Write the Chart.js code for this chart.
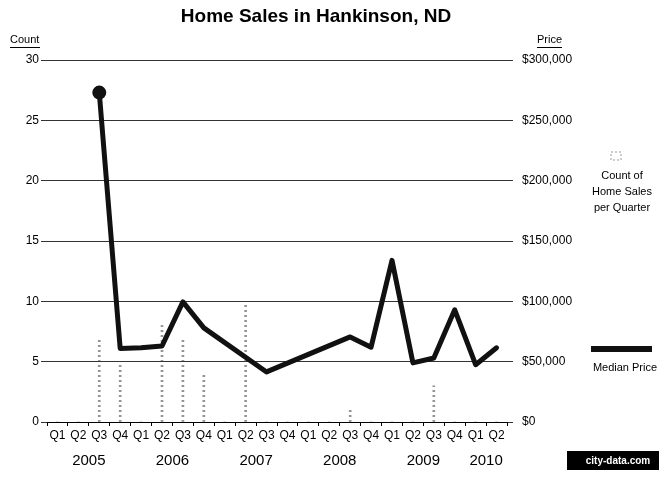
<!DOCTYPE html>
<html>
<head>
<meta charset="utf-8">
<script src="https://cdn.jsdelivr.net/npm/chart.js@4/dist/chart.umd.min.js"></script>
<style>
  html, body { margin: 0; padding: 0; background: #fff; }
  #wrap { width: 659px; height: 478px; position: relative; }
</style>
</head>
<body>
<div id="wrap"><canvas id="salesChart"></canvas></div>
<script>
// Home sales chart - Hankinson, ND
const quarters = ['Q1','Q2','Q3','Q4','Q1','Q2','Q3','Q4','Q1','Q2','Q3','Q4',
                  'Q1','Q2','Q3','Q4','Q1','Q2','Q3','Q4','Q1','Q2'];
const years = ['2005','2005','2005','2005','2006','2006','2006','2006','2007','2007','2007','2007',
               '2008','2008','2008','2008','2009','2009','2009','2009','2010','2010'];
const salesCount = [0, 0, 7, 5, 0, 8, 7, 4, 0, 10, 0, 0, 0, 0, 1, 0, 0, 0, 3, 0, 0, 0];
const medianPrice = [null, null, 273000, 61000, 61500, 63000, 99500, 78000, null, null, 41500, null,
                     null, null, 70500, 62000, 134000, 49000, 53000, 93000, 47500, 61500];
const countTicks = [0, 5, 10, 15, 20, 25, 30];
const priceTicks = [0, 50000, 100000, 150000, 200000, 250000, 300000];

const FONT = 'Liberation Sans, Arial, sans-serif';

// faint dotted fill for the count bars (they barely show in the original)
function dotPattern() {
  const c = document.createElement('canvas');
  c.width = 2; c.height = 5;
  const g = c.getContext('2d');
  g.fillStyle = 'rgba(60,60,60,0.55)';
  g.fillRect(0, 0, 2, 2);
  return document.createElement('canvas').getContext('2d').createPattern(c, 'repeat');
}

// draws title, axis captions, year labels, legend and badge
const decor = {
  id: 'decor',
  afterDraw(chart) {
    const ctx = chart.ctx;
    const x = chart.scales.x;
    ctx.save();
    ctx.fillStyle = '#000';
    ctx.textBaseline = 'middle';

    ctx.font = 'bold 19px ' + FONT;
    ctx.textAlign = 'center';
    ctx.fillText('Home Sales in Hankinson, ND', 316, 17);

    ctx.font = '11px ' + FONT;
    ctx.textAlign = 'left';
    ctx.fillText('Count', 10, 40);
    ctx.fillRect(10, 47, 30, 1);
    ctx.fillText('Price', 537, 40);
    ctx.fillRect(537, 47, 25, 1);

    // year labels centred under their quarters
    ctx.font = '15px ' + FONT;
    ctx.textAlign = 'center';
    const seen = {};
    years.forEach((y, i) => {
      if (!seen[y]) seen[y] = [];
      seen[y].push(x.getPixelForValue(i));
    });
    Object.keys(seen).forEach(y => {
      const px = seen[y];
      ctx.fillText(y, (px[0] + px[px.length - 1]) / 2, 461);
    });

    // legend
    ctx.setLineDash([2, 2]);
    ctx.strokeStyle = '#999';
    ctx.lineWidth = 1;
    ctx.strokeRect(611, 152, 10, 8);
    ctx.setLineDash([]);
    ctx.font = '11px ' + FONT;
    ctx.fillText('Count of', 622, 176);
    ctx.fillText('Home Sales', 622, 192);
    ctx.fillText('per Quarter', 622, 208);

    ctx.lineWidth = 6;
    ctx.strokeStyle = '#111';
    ctx.beginPath();
    ctx.moveTo(591, 349);
    ctx.lineTo(652, 349);
    ctx.stroke();
    ctx.fillText('Median Price', 625, 368);

    // badge
    ctx.fillStyle = '#000';
    ctx.fillRect(567, 451, 92, 19);
    ctx.fillStyle = '#fff';
    ctx.font = 'bold 10px ' + FONT;
    ctx.fillText('city-data.com', 618, 461);
    ctx.restore();
  }
};

new Chart(document.getElementById('salesChart'), {
  type: 'bar',
  data: {
    labels: quarters,
    datasets: [
      {
        type: 'line',
        label: 'Median Price',
        data: medianPrice,
        yAxisID: 'y2',
        borderColor: '#111',
        backgroundColor: '#111',
        borderWidth: 5,
        borderJoinStyle: 'round',
        borderCapStyle: 'round',
        spanGaps: true,
        pointRadius: medianPrice.map((v, i) => i === 2 ? 4.5 : 0),
        tension: 0,
        order: 0,
      },
      {
        label: 'Count of Home Sales per Quarter',
        data: salesCount,
        yAxisID: 'y',
        backgroundColor: dotPattern(),
        barThickness: 2,
        order: 1,
      },
    ],
  },
  options: {
    responsive: true,
    maintainAspectRatio: false,
    animation: false,
    layout: { padding: { top: 60, left: 0, right: 0, bottom: 0 } },
    plugins: { legend: { display: false }, tooltip: { enabled: false } },
    scales: {
      x: {
        offset: true,
        grid: { offset: true, drawOnChartArea: false, color: '#000', tickLength: 4 },
        border: { color: '#000' },
        ticks: { color: '#000', font: { family: FONT, size: 12 }, padding: 2, maxRotation: 0, autoSkip: false },
        afterFit: s => { s.height = 56; },
      },
      y: {
        position: 'left',
        min: 0, max: 30,
        afterBuildTicks: s => { s.ticks = countTicks.map(v => ({ value: v })); },
        grid: { color: '#333', tickLength: 6 },
        border: { display: false },
        ticks: { color: '#000', font: { family: FONT, size: 12 }, padding: 2 },
        afterFit: s => { s.width = 47; },
      },
      y2: {
        position: 'right',
        min: 0, max: 300000,
        afterBuildTicks: s => { s.ticks = priceTicks.map(v => ({ value: v })); },
        grid: { drawOnChartArea: false, color: '#333', tickLength: 6 },
        border: { display: false },
        ticks: {
          color: '#000', font: { family: FONT, size: 12 }, padding: 9,
          callback: v => '$' + v.toLocaleString('en-US'),
        },
        afterFit: s => { s.width = 152; },
      },
    },
  },
  plugins: [decor],
});
</script>
</body>
</html>
